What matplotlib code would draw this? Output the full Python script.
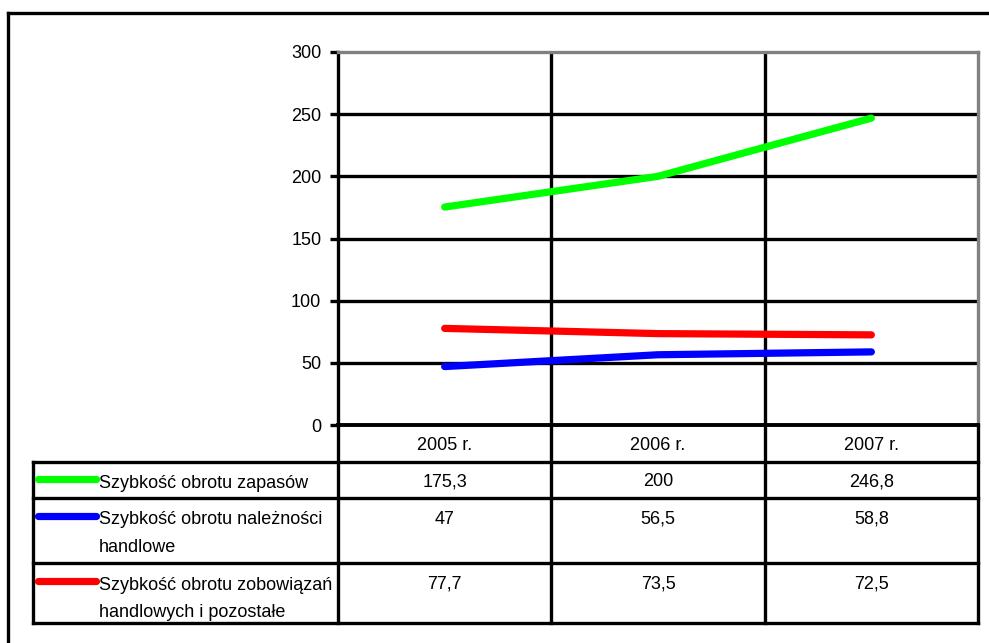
import matplotlib
matplotlib.use("Agg")
import matplotlib.pyplot as plt
from matplotlib.lines import Line2D

plt.rcParams['font.family'] = ['Liberation Sans', 'DejaVu Sans']

categories = ["2005 r.", "2006 r.", "2007 r."]
series_names = ["Szybkość obrotu zapasów",
                "Szybkość obrotu należności\nhandlowe",
                "Szybkość obrotu zobowiązań\nhandlowych i pozostałe"]
zapasy = [175.3, 200, 246.8]
naleznosci = [47, 56.5, 58.8]
zobowiazania = [77.7, 73.5, 72.5]
zapasy_lbl = ["175,3", "200", "246,8"]
naleznosci_lbl = ["47", "56,5", "58,8"]
zobowiazania_lbl = ["77,7", "73,5", "72,5"]
colors = ["#00ff00", "#0000ff", "#ff0000"]
yticks = [0, 50, 100, 150, 200, 250, 300]

W, H = 989, 643
fig = plt.figure(figsize=(W / 100, H / 100), dpi=100)

def fx(px):
    return px / W

def fy(py):
    return 1 - py / H

# plot area
L, R, T, B = 338, 978, 52, 425
ax = fig.add_axes([fx(L), fy(B), fx(R - L), fy(T) - fy(B)])
ax.set_xlim(0, 3)
ax.set_ylim(0, 300)
xs = [0.5, 1.5, 2.5]
for vals, c in zip([zapasy, naleznosci, zobowiazania], colors):
    ax.plot(xs, vals, color=c, lw=5.2, solid_capstyle='round', solid_joinstyle='round', zorder=5)
for y in yticks[1:-1]:
    ax.axhline(y, color='black', lw=2.4, zorder=1)
for x in [1, 2]:
    ax.axvline(x, color='black', lw=2.4, zorder=1)
ax.set_yticks(yticks)
ax.set_yticklabels([str(t) for t in yticks], fontsize=13)
ax.set_xticks([])
ax.tick_params(axis='y', length=6, width=2.4, pad=6, direction='out')
ax.spines['left'].set_linewidth(2.4)
ax.spines['left'].set_color('black')
ax.spines['bottom'].set_linewidth(2.8)
ax.spines['bottom'].set_color('black')
ax.spines['top'].set_linewidth(2.4)
ax.spines['top'].set_color('#808080')
ax.spines['right'].set_linewidth(2.4)
ax.spines['right'].set_color('#808080')

# overlay axes for table / frame in pixel coords
ov = fig.add_axes([0, 0, 1, 1])
ov.set_xlim(0, W)
ov.set_ylim(H, 0)
ov.axis('off')
ov.patch.set_alpha(0)

def seg(x0, y0, x1, y1, lw=2.4, color='black'):
    ov.add_line(Line2D([x0, x1], [y0, y1], color=color, lw=lw, solid_capstyle='projecting'))

# outer frame (left and top visible)
seg(8, 13, 8, H + 5, lw=2.4)
seg(8, 13, W + 5, 13, lw=2.4)

cols = [338, 551, 765, 978]
rows = [425, 462, 498, 563, 623]
TL = 33
# horizontal lines of table
for r in rows[1:]:
    seg(TL, r, cols[-1], r)
# vertical lines
for c in cols:
    seg(c, rows[0], c, rows[-1])
seg(TL, rows[1], TL, rows[-1])

# header
for i, cat in enumerate(categories):
    cx = (cols[i] + cols[i + 1]) / 2
    ov.text(cx, (rows[0] + rows[1]) / 2 + 2, cat, ha='center', va='center', fontsize=13)

labels = [zapasy_lbl, naleznosci_lbl, zobowiazania_lbl]
for k in range(3):
    top = rows[k + 1]
    ty = top + 21
    if k == 0:
        ty = (rows[1] + rows[2]) / 2 + 2
    for i in range(3):
        cx = (cols[i] + cols[i + 1]) / 2
        ov.text(cx, ty, labels[k][i], ha='center', va='center', fontsize=13)
    ov.text(99, ty - 7.5, series_names[k], ha='left', va='top', fontsize=13, linespacing=1.78)
    ov.add_line(Line2D([38, 96], [ty - 3, ty - 3], color=colors[k], lw=5.2, solid_capstyle='round'))

fig.savefig("out.png", dpi=100)
